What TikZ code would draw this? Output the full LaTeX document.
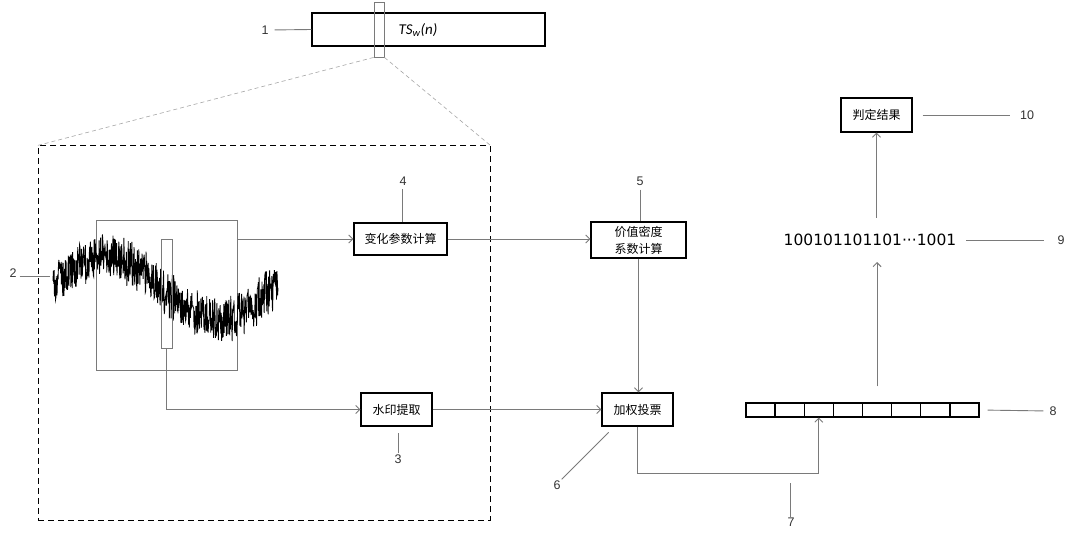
\documentclass[tikz,border=0pt]{standalone}
\usepackage{fontspec}
\setmainfont{Liberation Sans}
\newfontfamily\cjk{Noto Sans CJK SC}
\newfontfamily\calib{Carlito}
\newfontfamily\dvs{DejaVu Sans}
\usetikzlibrary{arrows.meta,calc}
\definecolor{conncol}{HTML}{7A7A7A}
\definecolor{lblcol}{HTML}{333333}
\begin{document}
\begin{tikzpicture}[x=1pt,y=-1pt,
  box/.style={draw=black, line width=1.4pt, inner sep=0pt, font=\cjk\fontsize{12}{17}\selectfont},
  conn/.style={draw=conncol, line width=0.9pt},
  arr/.style={conn, -{Straight Barb[length=4pt,width=8pt]}},
  lbl/.style={font=\fontsize{12.5}{14}\selectfont, text=lblcol, inner sep=1pt},
  cell/.style={draw=black, line width=1.3pt, minimum width=29.125pt, minimum height=14pt, inner sep=0pt},
  guide/.style={draw=gray!70, line width=0.6pt, dash pattern=on 4pt off 3pt},
  thinrect/.style={draw=conncol, line width=0.9pt, inner sep=0pt}]
\useasboundingbox[fill=white] (0,0) rectangle (1080,537);

% top bar
\node[draw=black, line width=1.3pt, minimum width=233pt, minimum height=33pt, inner sep=0pt] (ts) at (428.5,29.5) {};
\node[font=\calib\fontsize{15}{17}\selectfont\itshape] (tstext) at (418,30) {TS\textsubscript{w}(n)};
\node[thinrect, minimum width=10pt, minimum height=55pt] (win) at (379,29.5) {};
\node[lbl] (l1) at (265,30) {1};
\draw[conn, shorten <=5pt] (l1.east) -- (ts.west);

% dashed box and guides
\node[draw=black, line width=1pt, dash pattern=on 6pt off 4pt, minimum width=452pt, minimum height=374pt, inner sep=0pt] (dbox) at (264,333) {};
\draw[guide] (win.south west) -- (dbox.north west);
\draw[guide] (win.south east) -- (dbox.north east);

% signal
\node[thinrect, minimum width=141pt, minimum height=150pt] (sig) at (166.5,295) {};
\pgfmathsetseed{4217}
\draw[black, line width=0.85pt, line join=miter]
  plot[samples=620, domain=53:278, variable=\x]
  (\x, {288-32*cos(deg(2*pi*(\x-107)/220)) + 21*rand + 5*rand});
\node[thinrect, minimum width=11pt, minimum height=109pt] (win2) at (166.5,293.5) {};
\node[lbl] (l2) at (13,273) {2};
\coordinate (c2) at (50,276);
\draw[conn, shorten <=2pt] (l2.east |- c2) -- (c2);

% boxes
\node[box, minimum width=93pt, minimum height=32pt] (b4) at (400.5,239) {变化参数计算};
\node[box, minimum width=95pt, minimum height=36pt, align=center] (b5) at (638.5,240) {价值密度\\系数计算};
\node[box, minimum width=71pt, minimum height=33pt] (b3) at (396.5,409.5) {水印提取};
\node[box, minimum width=71pt, minimum height=33pt] (b6) at (637.5,409.5) {加权投票};
\node[box, minimum width=71pt, minimum height=34pt] (b10) at (876.5,115) {判定结果};

% register
\foreach \i in {1,...,8} {
  \node[cell] (r\i) at ({746+29.125*(\i-0.5)},410) {};
}
\node[font=\dvs\fontsize{15.5}{18}\selectfont, inner sep=0pt] (bits) at (870,240) {100101101101···1001};

% labels
\node[lbl] (l4) at (403,181) {4};
\node[lbl] (l5) at (640,181) {5};
\node[lbl] (l3) at (398,459) {3};
\node[lbl] (l6) at (557,485) {6};
\node[lbl] (l7) at (791,522) {7};
\node[lbl] (l8) at (1053,411) {8};
\node[lbl] (l9) at (1061,240) {9};
\node[lbl] (l10) at (1027,115) {10};
\coordinate (c7) at (790,483);

\draw[conn, shorten <=3pt] (l4.south -| 402,0) -- (402,0 |- b4.north);
\draw[conn, shorten <=3pt] (l5.south) -- (l5.south |- b5.north);
\draw[conn, shorten >=6pt] (l3.north) -- (l3.north |- b3.south);
\draw[conn, shorten >=8pt] (l6.north east) -- ($(b6.south west)+(13,0)$);
\draw[conn] (l7.north -| c7) -- (c7);
\draw[conn, shorten <=8pt, shorten >=5pt] (r8.east) -- (l8.west);
\draw[conn, shorten <=10pt, shorten >=12pt] (bits.east) -- (l9.west);
\draw[conn, shorten <=10pt, shorten >=9pt] (b10.east) -- (l10.west);

% connectors
\draw[arr] (sig.east |- b4.west) -- (b4.west);
\draw[arr] (b4.east) -- (b5.west |- b4.east);
\draw[arr] (b5.south) -- (b5.south |- b6.north);
\draw[arr] (win2.south) |- (b3.west);
\draw[arr] (b3.east) -- (b6.west);
\draw[arr] (b6.south) -- ++(0,47) -| (r3.south);
\draw[arr, shorten <=16pt, shorten >=16pt] (r5.north) -- (r5.north |- bits.south);
\draw[arr, shorten <=16pt] (bits.north -| b10.south) -- (b10.south);
\end{tikzpicture}
\end{document}
